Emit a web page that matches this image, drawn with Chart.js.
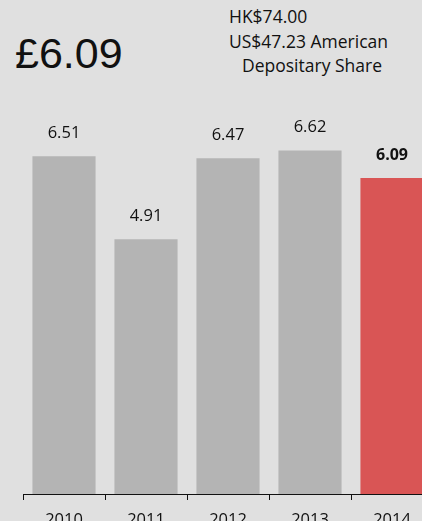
<!DOCTYPE html>
<html>
<head>
<meta charset="utf-8">
<script src="https://cdn.jsdelivr.net/npm/chart.js"></script>
<style>
  html, body { margin: 0; padding: 0; background: #e0e0e0; overflow: hidden; }
  body { width: 422px; height: 521px; position: relative; }
  #price { position: absolute; left: 15px; top: 32px; font-family: "Liberation Sans", Arial, sans-serif; font-size: 43px; line-height: 43px; color: #111; }
  .sub { position: absolute; font-family: "Open Sans", sans-serif; font-size: 17.5px; line-height: 24px; color: #111; white-space: nowrap; }
  #wrap { position: absolute; left: 0; top: 0; width: 440px; height: 521px; }
</style>
</head>
<body>
<div id="price">£6.09</div>
<div class="sub" style="left:229px; top:4px;">HK$74.00</div>
<div class="sub" style="left:229px; top:29px;">US$47.23 American</div>
<div class="sub" style="left:242px; top:53px;">Depositary Share</div>
<div id="wrap"><canvas id="c" width="440" height="521"></canvas></div>
<script>
// Share price by year
const years = ['2010', '2011', '2012', '2013', '2014'];
const prices = [6.51, 4.91, 6.47, 6.62, 6.09];
const barColors = ['#b4b4b4', '#b4b4b4', '#b4b4b4', '#b4b4b4', '#d95555'];

// labels above the bars, last one bold
const valueLabels = {
    id: 'valueLabels',
    afterDatasetsDraw(chart) {
        const ctx = chart.ctx;
        const meta = chart.getDatasetMeta(0);
        ctx.save();
        ctx.textAlign = 'center';
        ctx.textBaseline = 'middle';
        ctx.fillStyle = '#111';
        meta.data.forEach((bar, i) => {
            const last = i === prices.length - 1;
            ctx.font = (last ? 'bold 16px' : '16.5px') + ' "Open Sans", sans-serif';
            ctx.fillText(prices[i].toFixed(2), bar.x, bar.y - 23);
        });
        ctx.restore();
    }
};

new Chart(document.getElementById('c').getContext('2d'), {
    type: 'bar',
    data: {
        labels: years,
        datasets: [{
            data: prices,
            backgroundColor: barColors,
            categoryPercentage: 1,
            barPercentage: 0.77
        }]
    },
    options: {
        responsive: false,
        animation: false,
        layout: { padding: { left: 23, right: 7, top: 79, bottom: 0 } },
        plugins: { legend: { display: false }, tooltip: { enabled: false } },
        scales: {
            x: {
                grid: { offset: true, drawOnChartArea: false, color: '#111', tickLength: 6 },
                border: { display: true, color: '#111', width: 1 },
                ticks: { color: '#111', padding: 10, font: { family: 'Open Sans', size: 16.5 } },
                afterFit(scale) { scale.height = 27; }
            },
            y: { display: false, min: 0, max: 8 }
        }
    },
    plugins: [valueLabels]
});
</script>
</body>
</html>
